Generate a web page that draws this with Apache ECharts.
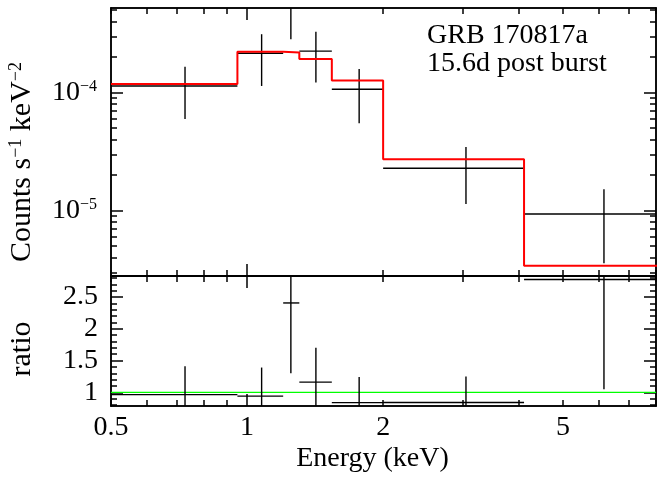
<!DOCTYPE html>
<html><head><meta charset="utf-8">
<script src="https://cdn.jsdelivr.net/npm/echarts@6/dist/echarts.min.js"></script>
<style>html,body{margin:0;padding:0;background:#fff}#c{width:660px;height:479px}</style>
</head><body><div id="c"></div>
<script>
// ---- data ----
const binLo     = [0.5,   0.952, 1.202, 1.305, 1.54,  2.0,    4.1];
const binHi     = [0.952, 1.202, 1.305, 1.54,  2.0,   4.1,    8.2];
const energyMid = [0.729, 1.077, 1.25,  1.42,  1.77,  3.05,   6.16];
const counts    = [1.14e-4, 2.16e-4, 5.3e-4, 2.25e-4, 1.07e-4, 2.29e-5, 9.38e-6];
const countsLo  = [5.98e-5, 1.14e-4, 2.84e-4, 1.22e-4, 5.5e-5, 1.14e-5, 3.58e-6];
const countsHi  = [1.66e-4, 3.13e-4, 7.6e-4, 3.29e-4, 1.59e-4, 3.47e-5, 1.52e-5];
const model     = [1.186e-4, 2.22e-4, 2.19e-4, 1.93e-4, 1.27e-4, 2.73e-5, 3.42e-6];
const ratio     = [0.964, 0.94, 2.406, 1.16, 0.838, 0.84, 2.775];
const ratioLo   = [0.50, 0.51, 1.30, 0.63, 0.43, 0.42, 1.05];
const ratioHi   = [1.41, 1.39, 3.5, 1.70, 1.24, 1.25, 4.45];
const unityLine = [1, 1];

// ---- ticks / labels ----
const xLabelValues = [0.5, 1, 2, 5];
const xMajorTicks = [1];
const xMinorTicks = [0.5, 0.6, 0.7, 0.8, 0.9, 2, 3, 4, 5, 6, 7, 8];
const countMajorTicks = [1e-5, 1e-4];
const countMinorTicks = [3e-6, 4e-6, 5e-6, 6e-6, 7e-6, 8e-6, 9e-6,
  2e-5, 3e-5, 4e-5, 5e-5, 6e-5, 7e-5, 8e-5, 9e-5, 2e-4, 3e-4, 4e-4, 5e-4];
const ratioMajorTicks = [1, 1.5, 2, 2.5];
const ratioMinorTicks = [0.8, 0.9, 1.1, 1.2, 1.3, 1.4, 1.6, 1.7, 1.8, 1.9,
  2.1, 2.2, 2.3, 2.4, 2.6, 2.7, 2.8];

const FONT = 'Liberation Serif';
const X_MIN = 0.5, X_MAX = 8.03;
const C_MIN = 2.796e-6, C_MAX = 5.22e-4;
const R_MIN = 0.785, R_MAX = 2.83;
const LINE = {color: '#000', width: 1.5};

function mkAxis(type, gridIndex, position, min, max, ticks, len, label) {
  const a = {
    type: type, gridIndex: gridIndex, position: position, min: min, max: max,
    axisLine: {show: true, onZero: false, lineStyle: LINE},
    axisTick: {show: true, inside: true, length: len, customValues: ticks, lineStyle: LINE},
    axisLabel: label || {show: false},
    splitLine: {show: false},
    minorTick: {show: false},
    silent: true
  };
  if (type === 'log') a.logBase = 10;
  return a;
}

const supRich = {
  a: {fontFamily: FONT, fontSize: 28, color: '#000', lineHeight: 28},
  s: {fontFamily: FONT, fontSize: 16, color: '#000', verticalAlign: 'top', lineHeight: 20}
};
const titleRich = {
  a: {fontFamily: FONT, fontSize: 30, color: '#000', lineHeight: 30},
  s: {fontFamily: FONT, fontSize: 18, color: '#000', verticalAlign: 'top', lineHeight: 22}
};

const xLabel = {
  show: true, customValues: xLabelValues, margin: 8,
  fontFamily: FONT, fontSize: 28, color: '#000', lineHeight: 28,
  formatter: v => String(+(+v).toPrecision(3))
};
const countLabel = {
  show: true, customValues: countMajorTicks, margin: 14,
  formatter: v => '{a|10}{s|\u2212' + Math.abs(Math.round(Math.log10(v))) + '}',
  rich: supRich
};
const ratioLabel = {
  show: true, customValues: ratioMajorTicks, margin: 13,
  fontFamily: FONT, fontSize: 28, color: '#000',
  formatter: v => String(+(+v).toPrecision(3))
};

const xAxes = [
  mkAxis('log', 0, 'bottom', X_MIN, X_MAX, xMajorTicks, 12),
  mkAxis('log', 0, 'bottom', X_MIN, X_MAX, xMinorTicks, 6),
  mkAxis('log', 0, 'top', X_MIN, X_MAX, xMajorTicks, 12),
  mkAxis('log', 0, 'top', X_MIN, X_MAX, xMinorTicks, 6),
  mkAxis('log', 1, 'bottom', X_MIN, X_MAX, xMajorTicks, 12, xLabel),
  mkAxis('log', 1, 'bottom', X_MIN, X_MAX, xMinorTicks, 6),
  mkAxis('log', 1, 'top', X_MIN, X_MAX, xMajorTicks, 12),
  mkAxis('log', 1, 'top', X_MIN, X_MAX, xMinorTicks, 6)
];
const yAxes = [
  mkAxis('log', 0, 'left', C_MIN, C_MAX, countMajorTicks, 12, countLabel),
  mkAxis('log', 0, 'left', C_MIN, C_MAX, countMinorTicks, 6),
  mkAxis('log', 0, 'right', C_MIN, C_MAX, countMajorTicks, 12),
  mkAxis('log', 0, 'right', C_MIN, C_MAX, countMinorTicks, 6),
  mkAxis('value', 1, 'left', R_MIN, R_MAX, ratioMajorTicks, 12, ratioLabel),
  mkAxis('value', 1, 'left', R_MIN, R_MAX, ratioMinorTicks, 6),
  mkAxis('value', 1, 'right', R_MIN, R_MAX, ratioMajorTicks, 12),
  mkAxis('value', 1, 'right', R_MIN, R_MAX, ratioMinorTicks, 6)
];

function crossRender(params, api) {
  const mid = api.value(0), v = api.value(1), lo = api.value(2), hi = api.value(3);
  const b0 = api.value(4), b1 = api.value(5);
  const pL = api.coord([b0, v]), pR = api.coord([b1, v]);
  const pB = api.coord([mid, lo]), pT = api.coord([mid, hi]);
  const st = {stroke: '#000', lineWidth: 1.4};
  return {type: 'group', children: [
    {type: 'line', shape: {x1: pL[0], y1: pL[1], x2: pR[0], y2: pR[1]}, style: st},
    {type: 'line', shape: {x1: pB[0], y1: pB[1], x2: pT[0], y2: pT[1]}, style: st}
  ]};
}

const countsData = energyMid.map((m, i) => [m, counts[i], countsLo[i], countsHi[i], binLo[i], binHi[i]]);
const ratioData = energyMid.map((m, i) => [m, ratio[i], ratioLo[i], ratioHi[i], binLo[i], binHi[i]]);
const modelData = binLo.map((e, i) => [e, model[i]]).concat([[binHi[binHi.length - 1], model[model.length - 1]]]);
const unityData = [[X_MIN, unityLine[0]], [X_MAX, unityLine[1]]];

const chart = echarts.init(document.getElementById('c'), null, {renderer: 'canvas'});
chart.setOption({
  animation: false,
  backgroundColor: '#fff',
  grid: [
    {left: 111, top: 8, width: 545, height: 268, containLabel: false, outerBoundsMode: 'none'},
    {left: 111, top: 276, width: 545, height: 130, containLabel: false, outerBoundsMode: 'none'}
  ],
  xAxis: xAxes,
  yAxis: yAxes,
  series: [
    {type: 'custom', xAxisIndex: 0, yAxisIndex: 0, data: countsData, renderItem: crossRender,
     clip: true, encode: {x: 0, y: 1}, silent: true, z: 2},
    {type: 'line', xAxisIndex: 0, yAxisIndex: 0, data: modelData, step: 'end', showSymbol: false,
     symbol: 'none', lineStyle: {color: '#ff0000', width: 2}, itemStyle: {color: '#ff0000'},
     silent: true, z: 3, clip: true},
    {type: 'line', xAxisIndex: 4, yAxisIndex: 4, data: unityData, showSymbol: false, symbol: 'none',
     lineStyle: {color: '#00ff00', width: 1.3}, itemStyle: {color: '#00ff00'}, silent: true, z: 2},
    {type: 'custom', xAxisIndex: 4, yAxisIndex: 4, data: ratioData, renderItem: crossRender,
     clip: true, encode: {x: 0, y: 1}, silent: true, z: 3}
  ],
  graphic: [
    {type: 'text', x: 427, y: 35.5, silent: true,
     style: {text: 'GRB 170817a', fontFamily: FONT, fontSize: 28, fill: '#000', align: 'left', verticalAlign: 'middle'}},
    {type: 'text', x: 427, y: 63.8, silent: true,
     style: {text: '15.6d post burst', fontFamily: FONT, fontSize: 28, fill: '#000', align: 'left', verticalAlign: 'middle'}},
    {type: 'text', x: 372.5, y: 458.5, silent: true,
     style: {text: 'Energy (keV)', fontFamily: FONT, fontSize: 28, fill: '#000', align: 'center', verticalAlign: 'middle'}},
    {type: 'text', x: 22, y: 162, rotation: Math.PI / 2, silent: true,
     style: {text: '{a|Counts s}{s|\u22121}{a| keV}{s|\u22122}', rich: titleRich, align: 'center', verticalAlign: 'middle'}},
    {type: 'text', x: 22, y: 349, rotation: Math.PI / 2, silent: true,
     style: {text: 'ratio', fontFamily: FONT, fontSize: 30, fill: '#000', align: 'center', verticalAlign: 'middle'}}
  ]
});
</script>
</body></html>
